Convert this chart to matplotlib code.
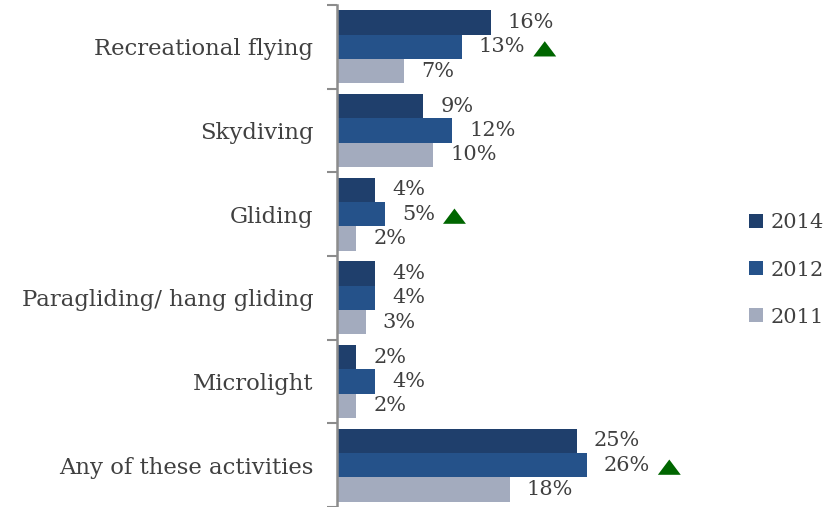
import matplotlib
matplotlib.use("Agg")
import matplotlib.pyplot as plt
from matplotlib.offsetbox import DrawingArea, AnnotationBbox
from matplotlib.patches import Polygon
import numpy as np

categories = ["Recreational flying", "Skydiving", "Gliding",
              "Paragliding/ hang gliding", "Microlight", "Any of these activities"]
years = ["2014", "2012", "2011"]
values_2014 = [16, 9, 4, 4, 2, 25]
values_2012 = [13, 12, 5, 4, 4, 26]
values_2011 = [7, 10, 2, 3, 2, 18]
# significant increase flags (shown on the 2012 bars)
increase_2012 = [True, False, True, False, False, True]

colors = ["#1F3F6C", "#25528A", "#A3ABBE"]
text_color = "#404040"
font = "DejaVu Serif"

fig = plt.figure(figsize=(8.27, 5.07), dpi=100)
ax = fig.add_axes([337 / 827, 0.0, 384 / 827, 1 - 5 / 507])

n = len(categories)
bar_h = 0.29
series = [values_2014, values_2012, values_2011]
centers = np.arange(n)
bars_by_series = []
for i, (vals, col, yr) in enumerate(zip(series, colors, years)):
    ypos = centers + (i - 1) * bar_h
    ax.barh(ypos, vals, height=bar_h, color=col, label=yr, edgecolor="none")
    bars_by_series.append((ypos, vals))

ax.set_xlim(0, 40)
ax.set_ylim(n - 0.5, -0.5)

labels = []
for i, (ypos, vals) in enumerate(bars_by_series):
    row = []
    for y, v in zip(ypos, vals):
        t = ax.annotate(f"{v}%", xy=(v, y), xytext=(17, 0),
                        textcoords="offset pixels", va="center", ha="left",
                        fontsize=15, family=font, color=text_color)
        row.append(t)
    labels.append(row)

# green up-triangles after flagged 2012 labels
tri_w, tri_h = 16.5, 11.0  # points
for j, flag in enumerate(increase_2012):
    if flag:
        da = DrawingArea(tri_w, tri_h, 0, 0)
        da.add_artist(Polygon([(0, 0), (tri_w, 0), (tri_w / 2, tri_h)],
                              closed=True, facecolor="#006600",
                              edgecolor="none"))
        ab = AnnotationBbox(da, (1, 0.5), xycoords=labels[1][j],
                            xybox=(8, -2), boxcoords="offset pixels",
                            box_alignment=(0, 0.5), frameon=False, pad=0)
        ax.add_artist(ab)

# category labels at band centres, boundary ticks between bands
ax.set_yticks(centers)
ax.set_yticklabels(categories, family=font, fontsize=16.4, color=text_color)
ax.tick_params(axis="y", which="major", length=0, pad=17)
ax.set_yticks(np.arange(-0.5, n, 1.0), minor=True)
ax.tick_params(axis="y", which="minor", length=7, width=1.5, color="#8C8C8C")

ax.xaxis.set_visible(False)
for s in ["top", "right", "bottom"]:
    ax.spines[s].set_visible(False)
ax.spines["left"].set_color("#8C8C8C")
ax.spines["left"].set_linewidth(1.8)

handles, labs = ax.get_legend_handles_labels()
leg = fig.legend(handles, labs, loc="center left",
                 bbox_to_anchor=(741 / 827, 1 - 270 / 507),
                 frameon=False, prop={"family": font, "size": 15},
                 handlelength=0.65, handleheight=0.65, handletextpad=0.35,
                 labelspacing=1.35, borderaxespad=0)
for t in leg.get_texts():
    t.set_color(text_color)

fig.savefig("out.png", dpi=100)
